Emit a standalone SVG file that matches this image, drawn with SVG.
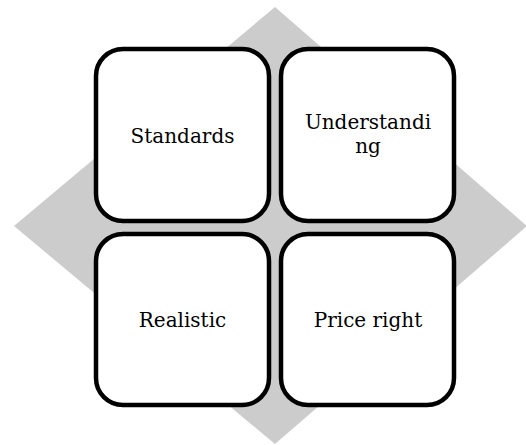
<svg xmlns="http://www.w3.org/2000/svg" width="526" height="445" viewBox="0 0 526 445">
<style>
.box{fill:#fff;stroke:#000;stroke-width:4.5}
.lbl{font-family:"DejaVu Serif","Liberation Serif",serif;font-size:20px;fill:#000;text-anchor:middle}
</style>
<rect width="526" height="445" fill="#fff"/>
<polygon id="diamond" points="275,7 527,226 275,444 14,226" fill="#cccccc"/>
<g id="connectors"/>
<g id="standards">
<rect class="box" x="96" y="49" width="173" height="172" rx="27"/>
<text class="lbl" x="182.5" y="143">Standards</text>
</g>
<g id="understanding">
<rect class="box" x="281" y="49" width="173" height="172" rx="27"/>
<text class="lbl" x="368" y="129">Understandi</text>
<text class="lbl" x="368" y="153">ng</text>
</g>
<g id="realistic">
<rect class="box" x="96" y="234" width="173" height="171" rx="27"/>
<text class="lbl" x="182.5" y="327">Realistic</text>
</g>
<g id="price">
<rect class="box" x="281" y="234" width="173" height="171" rx="27"/>
<text class="lbl" x="368" y="327">Price right</text>
</g>
</svg>
